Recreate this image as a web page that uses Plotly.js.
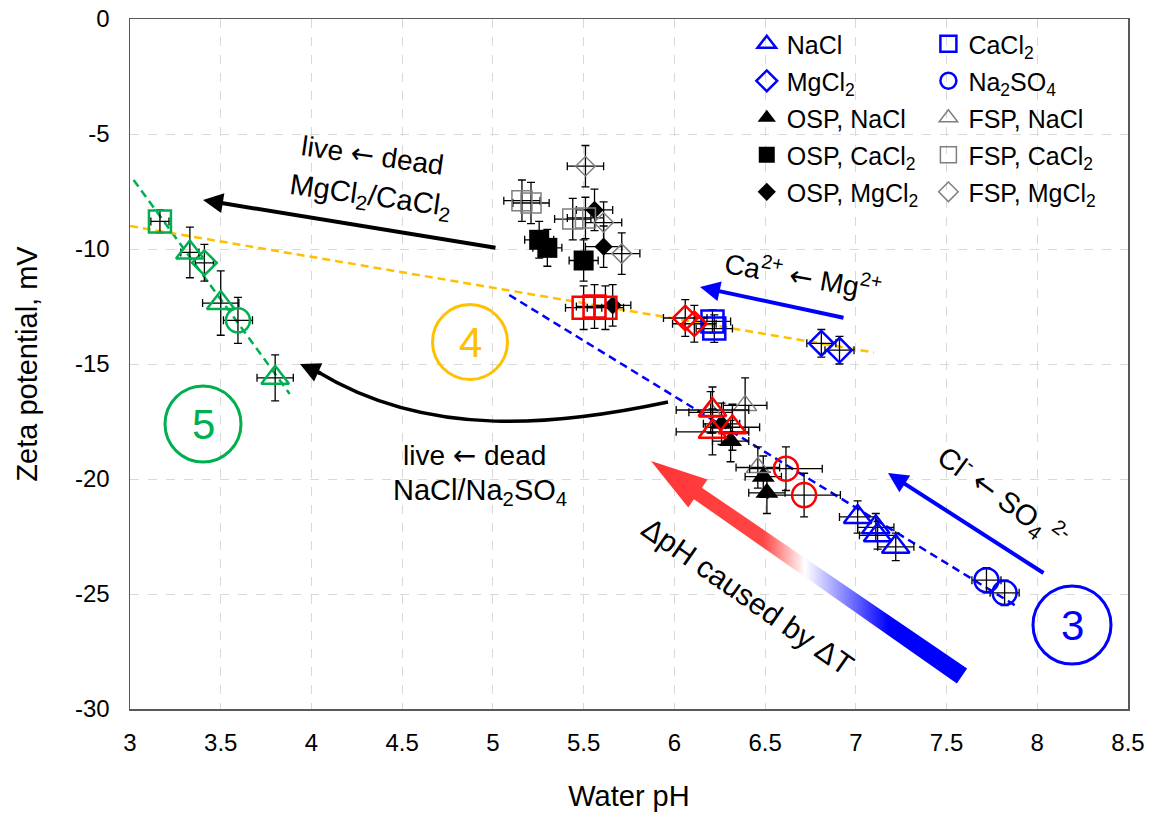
<!DOCTYPE html>
<html><head><meta charset="utf-8">
<script src="https://cdn.plot.ly/plotly-3.0.1.min.js"></script>
<style>html,body{margin:0;padding:0;background:#fff}#chart{width:1155px;height:819px}</style>
</head><body><div id="chart"></div>
<script>
// ---------- tick labels ----------
const xTickVals = [3, 3.5, 4, 4.5, 5, 5.5, 6, 6.5, 7, 7.5, 8, 8.5];
const xTickText = ['3', '3.5', '4', '4.5', '5', '5.5', '6', '6.5', '7', '7.5', '8', '8.5'];
const yTickVals = [0, -5, -10, -15, -20, -25, -30];
const yTickText = ['0', '-5', '-10', '-15', '-20', '-25', '-30'];

// ---------- group 3 (blue) ----------
const naclBlueX = [7.01, 7.11, 7.12, 7.22];
const naclBlueY = [-21.65, -22.1, -22.45, -22.95];
const naclBlueEx = [0.1, 0.1, 0.1, 0.1];
const naclBlueEy = [0.7, 0.6, 0.6, 0.6];
const caBlueX = [6.21, 6.22];
const caBlueY = [-13.15, -13.46];
const caBlueEx = [0.1, 0.1];
const caBlueEy = [0.5, 0.6];
const mgBlueX = [6.81, 6.91];
const mgBlueY = [-14.1, -14.4];
const mgBlueEx = [0.08, 0.08];
const mgBlueEy = [0.6, 0.6];
const so4BlueX = [7.72, 7.82];
const so4BlueY = [-24.4, -24.95];
const so4BlueEx = [0.08, 0.08];
const so4BlueEy = [0.55, 0.55];

// ---------- group 4 (red) ----------
const caRedX = [5.5, 5.56, 5.62];
const caRedY = [-12.55, -12.5, -12.55];
const caRedEx = [0.1, 0.1, 0.1];
const caRedEy = [0.95, 0.95, 0.95];
const mgRedX = [6.06, 6.11];
const mgRedY = [-13.0, -13.25];
const mgRedEx = [0.12, 0.12];
const mgRedEy = [0.8, 0.8];
const naclRedX = [6.21, 6.21, 6.32];
const naclRedY = [-17.0, -17.95, -17.75];
const naclRedEx = [0.2, 0.2, 0.15];
const naclRedEy = [1.0, 1.0, 1.0];
const so4RedX = [6.615, 6.715];
const so4RedY = [-19.55, -20.7];
const so4RedEx = [0.2, 0.2];
const so4RedEy = [0.95, 0.95];

// ---------- group 5 (green) ----------
const caGreenX = [3.165];
const caGreenY = [-8.8];
const caGreenEx = [0.05];
const caGreenEy = [0.5];
const naclGreenX = [3.33, 3.5, 3.8];
const naclGreenY = [-10.15, -12.35, -15.6];
const naclGreenEx = [0.05, 0.1, 0.1];
const naclGreenEy = [1.1, 1.4, 1.0];
const mgGreenX = [3.41];
const mgGreenY = [-10.6];
const mgGreenEx = [0.05];
const mgGreenEy = [0.8];
const so4GreenX = [3.595];
const so4GreenY = [-13.1];
const so4GreenEx = [0.08];
const so4GreenEy = [1.0];

// ---------- OSP (filled black) ----------
const ospNaclX = [6.26, 6.31, 6.49, 6.51];
const ospNaclY = [-17.6, -18.35, -19.9, -20.6];
const ospNaclEx = [0.1, 0.1, 0.1, 0.1];
const ospNaclEy = [0.9, 0.9, 0.9, 0.9];
const ospCaX = [5.255, 5.3, 5.5];
const ospCaY = [-9.6, -9.95, -10.5];
const ospCaEx = [0.08, 0.08, 0.08];
const ospCaEy = [0.8, 0.8, 0.9];
const ospMgX = [5.56, 5.61, 5.66];
const ospMgY = [-8.3, -9.9, -12.45];
const ospMgEx = [0.1, 0.1, 0.1];
const ospMgEy = [0.9, 0.9, 0.9];

// ---------- FSP (open gray) ----------
const fspNaclX = [6.2, 6.39, 6.46];
const fspNaclY = [-17.1, -16.8, -19.5];
const fspNaclEx = [0.12, 0.12, 0.12];
const fspNaclEy = [0.9, 1.2, 0.9];
const fspCaX = [5.16, 5.21, 5.44, 5.51];
const fspCaY = [-7.9, -8.0, -8.7, -8.65];
const fspCaEx = [0.1, 0.1, 0.1, 0.1];
const fspCaEy = [0.9, 0.9, 0.9, 0.9];
const fspMgX = [5.51, 5.61, 5.71];
const fspMgY = [-6.4, -8.85, -10.2];
const fspMgEx = [0.1, 0.1, 0.1];
const fspMgEy = [0.9, 0.9, 0.9];

// ---------- trend lines ----------
const greenLineX = [3.02, 3.88];
const greenLineY = [-7.0, -16.3];
const orangeLineX = [3.0, 7.1];
const orangeLineY = [-9.0, -14.5];
const blueLineX = [5.09, 7.9];
const blueLineY = [-12.0, -25.6];

// ---------- styling ----------
const BLUE = '#0000FF', RED = '#FF0000', GREEN = '#00B050', ORANGE = '#FFC000', GRAY = '#7F7F7F';
const FONT = 'Liberation Sans, Arial, sans-serif';
const ARR = '<span style="font-family:DejaVu Sans">←</span>';

// pixel -> data helpers (for annotation placement only)
const PL = 130, PT = 19, PW = 998, PH = 690;
const XR = [3, 8.5], YR = [-30, 0];
function dx(px) { return XR[0] + (px - PL) / PW * (XR[1] - XR[0]); }
function dy(py) { return YR[1] - (py - PT) / PH * (YR[1] - YR[0]); }

function err(arr) { return {type: 'data', array: arr, visible: true, color: '#000', thickness: 1.3, width: 4}; }
function pts(name, x, y, ex, ey, symbol, size, color, lw, lineColor, legend, show) {
  return {
    type: 'scatter', mode: 'markers', name: name, x: x, y: y,
    error_x: err(ex), error_y: err(ey),
    marker: {symbol: symbol, size: size, color: color, line: {width: lw, color: lineColor}},
    legend: legend || 'legend', legendgroup: name, showlegend: !!show, hoverinfo: 'x+y'
  };
}
function dash(x, y, color) {
  return {type: 'scatter', mode: 'lines', x: x, y: y, line: {color: color, width: 2.5, dash: '8px,5px'},
    showlegend: false, hoverinfo: 'skip'};
}

// gradient arrow polygon (pixel geometry -> data)
function gradArrow(tail, tip, headLen, headHalf, baseHalf, tailHalf) {
  const vx = tip[0] - tail[0], vy = tip[1] - tail[1];
  const len = Math.hypot(vx, vy);
  const ux = vx / len, uy = vy / len, nx = -uy, ny = ux;
  const bx = tip[0] - ux * headLen, by = tip[1] - uy * headLen;
  const P = [
    [tail[0] + nx * tailHalf, tail[1] + ny * tailHalf],
    [bx + nx * baseHalf, by + ny * baseHalf],
    [bx + nx * headHalf, by + ny * headHalf],
    [tip[0], tip[1]],
    [bx - nx * headHalf, by - ny * headHalf],
    [bx - nx * baseHalf, by - ny * baseHalf],
    [tail[0] - nx * tailHalf, tail[1] - ny * tailHalf],
    [tail[0] + nx * tailHalf, tail[1] + ny * tailHalf]
  ];
  return {x: P.map(p => dx(p[0])), y: P.map(p => dy(p[1]))};
}
const ga = gradArrow([962, 676], [651, 461], 57, 17, 7, 9);

const traces = [
  {type: 'scatter', mode: 'lines', x: ga.x, y: ga.y, fill: 'toself',
   line: {width: 0, color: 'rgba(0,0,0,0)'},
   fillgradient: {type: 'horizontal', start: dx(651), stop: dx(972),
     colorscale: [[0, '#FF3535'], [0.35, '#FF4545'], [0.48, '#FFFFFF'], [0.74, '#0000FF'], [1, '#0000FF']]},
   showlegend: false, hoverinfo: 'skip'},
  dash(greenLineX, greenLineY, GREEN),
  dash(orangeLineX, orangeLineY, ORANGE),
  dash(blueLineX, blueLineY, BLUE),

  // legend column 1
  pts('NaCl', naclBlueX, naclBlueY, naclBlueEx, naclBlueEy, 'triangle-up-open', 24, BLUE, 2.5, BLUE, 'legend', true),
  pts('MgCl<sub>2</sub>', mgBlueX, mgBlueY, mgBlueEx, mgBlueEy, 'diamond-open', 19, BLUE, 2.5, BLUE, 'legend', true),
  pts('OSP, NaCl', ospNaclX, ospNaclY, ospNaclEx, ospNaclEy, 'triangle-up', 20, '#000', 0, '#000', 'legend', true),
  pts('OSP, CaCl<sub>2</sub>', ospCaX, ospCaY, ospCaEx, ospCaEy, 'square', 20, '#000', 0, '#000', 'legend', true),
  pts('OSP, MgCl<sub>2</sub>', ospMgX, ospMgY, ospMgEx, ospMgEy, 'diamond', 14, '#000', 0, '#000', 'legend', true),
  // legend column 2
  pts('CaCl<sub>2</sub>', caBlueX, caBlueY, caBlueEx, caBlueEy, 'square-open', 22, BLUE, 2.5, BLUE, 'legend2', true),
  pts('Na<sub>2</sub>SO<sub>4</sub>', so4BlueX, so4BlueY, so4BlueEx, so4BlueEy, 'circle-open', 24, BLUE, 2.5, BLUE, 'legend2', true),
  pts('FSP, NaCl', fspNaclX, fspNaclY, fspNaclEx, fspNaclEy, 'triangle-up-open', 20, GRAY, 1.5, GRAY, 'legend2', true),
  pts('FSP, CaCl<sub>2</sub>', fspCaX, fspCaY, fspCaEx, fspCaEy, 'square-open', 20, GRAY, 1.5, GRAY, 'legend2', true),
  pts('FSP, MgCl<sub>2</sub>', fspMgX, fspMgY, fspMgEx, fspMgEy, 'diamond-open', 15, GRAY, 1.5, GRAY, 'legend2', true),

  // red (group 4)
  pts('CaCl2 r', caRedX, caRedY, caRedEx, caRedEy, 'square-open', 22, RED, 2.5, RED),
  pts('MgCl2 r', mgRedX, mgRedY, mgRedEx, mgRedEy, 'diamond-open', 19, RED, 2.5, RED),
  pts('NaCl r', naclRedX, naclRedY, naclRedEx, naclRedEy, 'triangle-up-open', 24, RED, 2.5, RED),
  pts('Na2SO4 r', so4RedX, so4RedY, so4RedEx, so4RedEy, 'circle-open', 24, RED, 2.5, RED),
  // green (group 5)
  pts('CaCl2 g', caGreenX, caGreenY, caGreenEx, caGreenEy, 'square-open', 22, GREEN, 2.5, GREEN),
  pts('MgCl2 g', mgGreenX, mgGreenY, mgGreenEx, mgGreenEy, 'diamond-open', 19, GREEN, 2.5, GREEN),
  pts('NaCl g', naclGreenX, naclGreenY, naclGreenEx, naclGreenEy, 'triangle-up-open', 24, GREEN, 2.5, GREEN),
  pts('Na2SO4 g', so4GreenX, so4GreenY, so4GreenEx, so4GreenEy, 'circle-open', 24, GREEN, 2.5, GREEN)
];

function txt(px, py, text, size, angle, color) {
  return {x: dx(px), y: dy(py), xref: 'x', yref: 'y', text: text, showarrow: false,
    textangle: angle || 0, font: {family: FONT, size: size, color: color || '#000'},
    xanchor: 'center', yanchor: 'middle'};
}
function arrow(tailPx, tipPx, color, w) {
  return {x: dx(tipPx[0]), y: dy(tipPx[1]), ax: dx(tailPx[0]), ay: dy(tailPx[1]),
    xref: 'x', yref: 'y', axref: 'x', ayref: 'y', text: '', showarrow: true,
    arrowhead: 2, arrowsize: 1, arrowwidth: w, arrowcolor: color, standoff: 0, startstandoff: 0};
}

const annotations = [
  txt(372, 155, 'live ' + ARR + ' dead', 28, 8),
  txt(370, 197, 'MgCl<sub>2</sub>/CaCl<sub>2</sub>', 29, 8),
  txt(474, 455, 'live ' + ARR + ' dead', 28, 0),
  txt(480, 492, 'NaCl/Na<sub>2</sub>SO<sub>4</sub>', 29, 0),
  txt(803, 275, 'Ca<sup>2+</sup> ' + ARR + ' Mg<sup>2+</sup>', 28, 10),
  txt(1002, 497, 'Cl<sup>-</sup> ' + ARR + ' SO<sub>4</sub><sup> 2-</sup>', 29, 36),
  txt(748, 596, 'ΔpH caused by ΔT', 30, 35),
  txt(470, 342, '4', 42, 0, ORANGE),
  txt(203, 424, '5', 42, 0, GREEN),
  txt(1072, 625, '3', 42, 0, BLUE),
  arrow([497, 248], [203, 200], '#000', 4),
  arrow([845, 318], [700, 287], BLUE, 4),
  arrow([1045, 574], [888, 473], BLUE, 4),
  arrow([322, 374], [300, 364], '#000', 4)
];

function pathData(cmds) {
  return cmds.map(c => c[0] + c.slice(1).reduce((s, v, i) => s + (i ? (i % 2 ? ',' : ' ') : '') + (i % 2 ? dy(v) : dx(v)), '')).join(' ');
}
const curve = pathData([['M', 668, 402], ['C', 560, 425, 430, 440, 318, 372]]);

function ring(px, py, r, color) {
  return {type: 'circle', xref: 'x', yref: 'y', xsizemode: 'pixel', ysizemode: 'pixel',
    xanchor: dx(px), yanchor: dy(py), x0: -r, x1: r, y0: -r, y1: r,
    line: {color: color, width: 3}, fillcolor: 'rgba(0,0,0,0)'};
}

const shapes = [
  {type: 'path', xref: 'x', yref: 'y', path: curve, line: {color: '#000', width: 3.5}},
  ring(470, 342, 37.5, ORANGE),
  ring(203, 424, 38, GREEN),
  ring(1072, 625, 39, BLUE)
];

const legendCommon = {
  font: {family: FONT, size: 25, color: '#000'}, bgcolor: 'rgba(0,0,0,0)',
  orientation: 'v', xanchor: 'left', yanchor: 'top', tracegroupgap: 1.5, itemclick: false
};

const layout = {
  width: 1155, height: 819,
  margin: {l: 130, r: 27, t: 19, b: 110},
  paper_bgcolor: '#fff', plot_bgcolor: '#fff',
  font: {family: FONT, color: '#000'},
  xaxis: {
    range: XR, tickvals: xTickVals, ticktext: xTickText,
    showgrid: true, gridcolor: '#D9D9D9', griddash: 'dash', gridwidth: 1,
    showline: true, linecolor: '#595959', linewidth: 1.5, mirror: true,
    zeroline: false, ticks: '', ticklabelstandoff: 12,
    tickfont: {family: FONT, size: 24, color: '#000'},
    title: {text: 'Water pH', font: {family: FONT, size: 29, color: '#000'}, standoff: 30}
  },
  yaxis: {
    range: YR, tickvals: yTickVals, ticktext: yTickText,
    showgrid: true, gridcolor: '#D9D9D9', griddash: 'dash', gridwidth: 1,
    showline: true, linecolor: '#595959', linewidth: 1.5, mirror: true,
    zeroline: false, ticks: '', ticklabelstandoff: 14,
    tickfont: {family: FONT, size: 24, color: '#000'},
    title: {text: 'Zeta potential, mV', font: {family: FONT, size: 29, color: '#000'}, standoff: 29}
  },
  legend: Object.assign({x: 0.618, y: 0.997}, legendCommon),
  legend2: Object.assign({x: 0.8, y: 0.997}, legendCommon),
  annotations: annotations,
  shapes: shapes,
  showlegend: true
};

Plotly.newPlot('chart', traces, layout, {displayModeBar: false, staticPlot: true});
</script>
</body></html>
